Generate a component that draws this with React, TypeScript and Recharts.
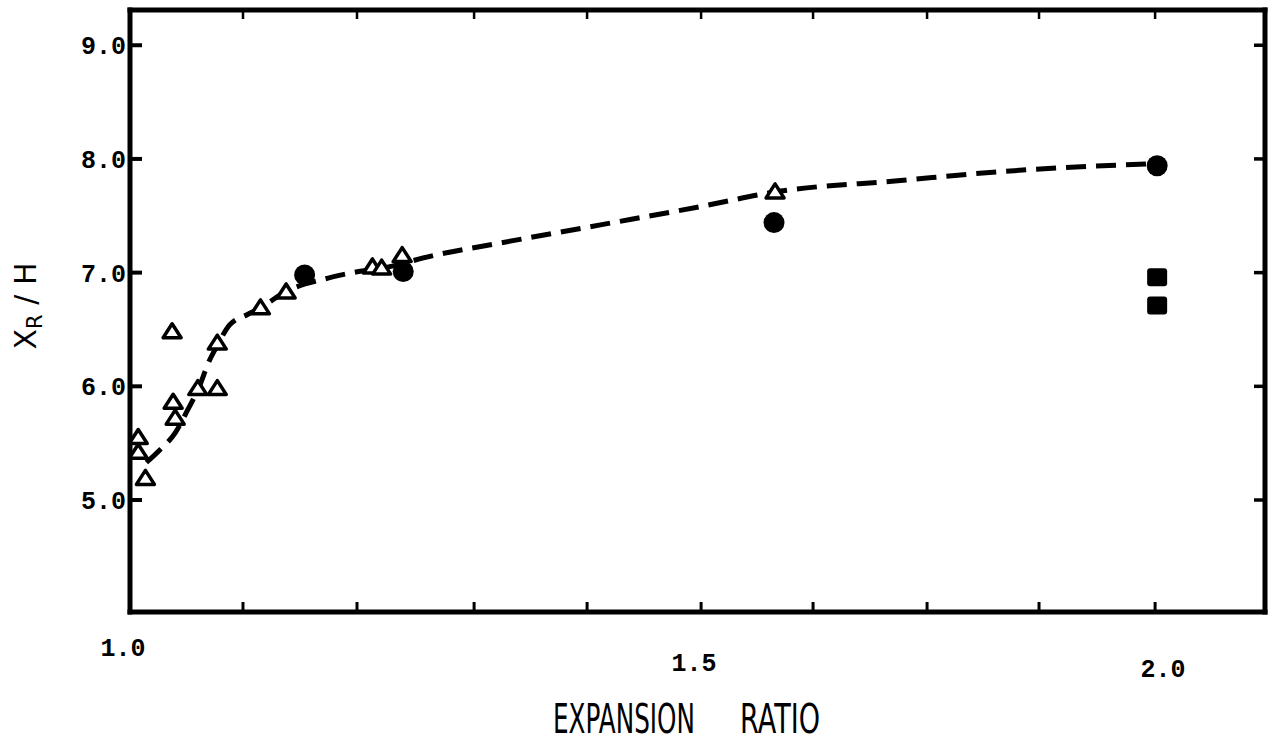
import { ComposedChart, Line, Scatter, XAxis, YAxis } from "recharts";

// open triangles
const triangleRatio = [1.008, 1.008, 1.015, 1.041, 1.042, 1.044, 1.066, 1.085, 1.085, 1.127, 1.152, 1.236, 1.245, 1.265, 1.628];
const triangleXr = [5.55, 5.42, 5.19, 6.48, 5.86, 5.72, 5.98, 5.98, 6.38, 6.69, 6.83, 7.05, 7.04, 7.15, 7.71];

// filled circles
const circleRatio = [1.17, 1.266, 1.627, 2.0];
const circleXr = [6.98, 7.01, 7.44, 7.94];

// filled squares
const squareRatio = [2.0, 2.0];
const squareXr = [6.96, 6.71];

// dashed fit curve
const curveRatio = [1.016, 1.029, 1.044, 1.056, 1.068, 1.076, 1.085, 1.097, 1.114, 1.127, 1.151, 1.192, 1.217, 1.246, 1.295, 1.36, 1.458, 1.555, 1.628, 1.75, 1.85, 2.0];
const curveXr = [5.33, 5.44, 5.59, 5.79, 6.01, 6.2, 6.36, 6.54, 6.63, 6.69, 6.83, 6.95, 7.0, 7.04, 7.15, 7.26, 7.42, 7.58, 7.71, 7.81, 7.89, 7.96];

const xTicks = [1.0, 1.11, 1.221, 1.335, 1.445, 1.556, 1.665, 1.776, 1.885, 1.998];
const xTickLabels = ["1.0", "", "", "", "", "1.5", "", "", "", "2.0"];
const yTicks = [5, 6, 7, 8, 9];
const yTickLabels = ["5.0", "6.0", "7.0", "8.0", "9.0"];

const X_DOMAIN: [number, number] = [1.0, 2.105];
const Y_DOMAIN: [number, number] = [4.015, 9.31];

const toPoints = (xs: number[], ys: number[]) => xs.map((x, i) => ({ x, y: ys[i] }));

const triangles = toPoints(triangleRatio, triangleXr);
const circles = toPoints(circleRatio, circleXr);
const squares = toPoints(squareRatio, squareXr);
const curve = toPoints(curveRatio, curveXr);

// anchors for the inward ticks on the top and right sides of the frame
const topMarks = xTicks.slice(1).map((x) => ({ x, y: Y_DOMAIN[1] }));
const rightMarks = yTicks.map((y) => ({ x: X_DOMAIN[1], y }));

const MONO = "'Liberation Mono', 'DejaVu Sans Mono', monospace";
const SANS = "'DejaVu Sans', sans-serif";
const INK = "#000";

// label nudges for the typed x labels
const X_LABEL_OFFSET: Record<string, { dx: number; dy: number }> = {
  "1.0": { dx: -7, dy: 44 },
  "1.5": { dx: -7, dy: 59 },
  "2.0": { dx: 8, dy: 65 },
};

function BottomTick({ x, y, payload }: any) {
  const i = xTicks.indexOf(payload.value);
  const label = xTickLabels[i];
  const off = X_LABEL_OFFSET[label];
  return (
    <g>
      <line x1={x} y1={y} x2={x} y2={y - 10} stroke={INK} strokeWidth={3} />
      {label && (
        <text x={x + off.dx} y={y + off.dy} textAnchor="middle" fontFamily={MONO} fontWeight={700} fontSize={25} fill={INK}>
          {label}
        </text>
      )}
    </g>
  );
}

function LeftTick({ x, y, payload }: any) {
  const i = yTicks.indexOf(payload.value);
  return (
    <g>
      <line x1={x} y1={y} x2={x + 12} y2={y} stroke={INK} strokeWidth={4} />
      <text x={x - 4} y={y} dy="0.36em" textAnchor="end" fontFamily={MONO} fontWeight={700} fontSize={25} fill={INK}>
        {yTickLabels[i]}
      </text>
    </g>
  );
}

function TopMark({ cx, cy }: any) {
  return <line x1={cx} y1={cy} x2={cx} y2={cy + 9} stroke={INK} strokeWidth={2.5} />;
}

function RightMark({ cx, cy }: any) {
  return <line x1={cx} y1={cy} x2={cx - 11} y2={cy} stroke={INK} strokeWidth={3.5} />;
}

function Triangle({ cx, cy }: any) {
  return (
    <path
      d={`M${cx},${cy - 8} L${cx - 9},${cy + 6} L${cx + 9},${cy + 6} Z`}
      fill="#fff"
      stroke={INK}
      strokeWidth={3.5}
      strokeLinejoin="round"
    />
  );
}

function Dot({ cx, cy }: any) {
  return <circle cx={cx} cy={cy} r={10.5} fill={INK} />;
}

function Square({ cx, cy }: any) {
  return <rect x={cx - 10} y={cy - 9} width={20} height={18} rx={3} fill={INK} />;
}

const axisLine = { stroke: INK, strokeWidth: 5, strokeLinecap: "square" as const };

export default function App() {
  return (
    <div style={{ position: "absolute", left: 0, top: 0, width: 1270, height: 752, background: "#fff" }}>
      <ComposedChart width={1270} height={752} margin={{ top: 9, right: 4, left: 0, bottom: 0 }}>
        <XAxis
          xAxisId="bottom"
          dataKey="x"
          type="number"
          domain={X_DOMAIN}
          ticks={xTicks}
          interval={0}
          allowDataOverflow
          height={140}
          axisLine={axisLine}
          tickLine={false}
          tickSize={0}
          tickMargin={0}
          tick={BottomTick}
          label={{
            content: () => (
              <g fontFamily={SANS} fill={INK}>
                <text transform="translate(553,733) scale(1,1.75)" fontSize={23} textLength={142} lengthAdjust="spacingAndGlyphs">
                  EXPANSION
                </text>
                <text transform="translate(740,733) scale(1,1.75)" fontSize={23} textLength={80} lengthAdjust="spacingAndGlyphs">
                  RATIO
                </text>
              </g>
            ),
          }}
        />
        <XAxis
          xAxisId="top"
          orientation="top"
          dataKey="x"
          type="number"
          domain={X_DOMAIN}
          allowDataOverflow
          height={1}
          axisLine={axisLine}
          tickLine={false}
          tick={false}
        />
        <YAxis
          yAxisId="left"
          type="number"
          domain={Y_DOMAIN}
          ticks={yTicks}
          interval={0}
          allowDataOverflow
          width={130}
          axisLine={axisLine}
          tickLine={false}
          tickSize={0}
          tickMargin={0}
          tick={LeftTick}
          label={{
            content: () => (
              <text
                transform="translate(36,306) rotate(-90)"
                textAnchor="middle"
                fontFamily={SANS}
                fontSize={30}
                fill={INK}
              >
                X<tspan fontSize={21} dy={6}>R</tspan>
                <tspan dy={-6}> / H</tspan>
              </text>
            ),
          }}
        />
        <YAxis
          yAxisId="right"
          orientation="right"
          type="number"
          domain={Y_DOMAIN}
          allowDataOverflow
          width={1}
          axisLine={axisLine}
          tickLine={false}
          tick={false}
        />
        <Scatter xAxisId="bottom" yAxisId="left" data={topMarks} dataKey="y" shape={TopMark} isAnimationActive={false} />
        <Scatter xAxisId="bottom" yAxisId="left" data={rightMarks} dataKey="y" shape={RightMark} isAnimationActive={false} />
        <Line
          xAxisId="bottom"
          yAxisId="left"
          data={curve}
          dataKey="y"
          type="monotone"
          stroke={INK}
          strokeWidth={5}
          strokeDasharray="20 10"
          dot={false}
          activeDot={false}
          isAnimationActive={false}
        />
        <Scatter xAxisId="bottom" yAxisId="left" data={triangles} dataKey="y" shape={Triangle} isAnimationActive={false} />
        <Scatter xAxisId="bottom" yAxisId="left" data={circles} dataKey="y" shape={Dot} isAnimationActive={false} />
        <Scatter xAxisId="bottom" yAxisId="left" data={squares} dataKey="y" shape={Square} isAnimationActive={false} />
      </ComposedChart>
    </div>
  );
}
